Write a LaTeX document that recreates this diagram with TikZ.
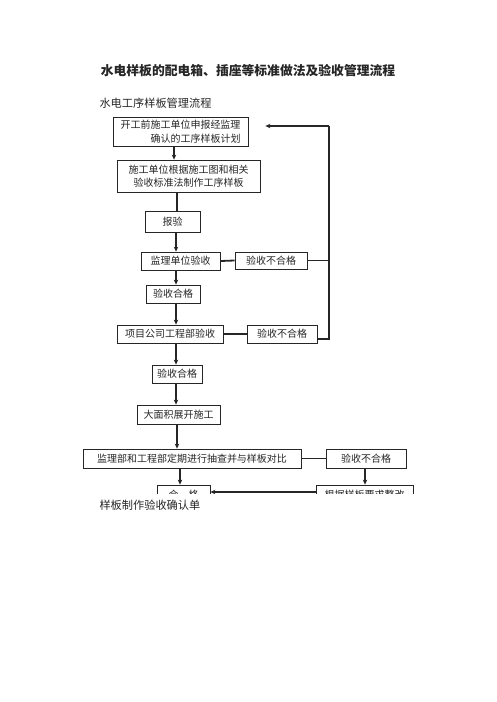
\documentclass[tikz,border=0pt]{standalone}
\usepackage{fontspec}
\newfontfamily\cjk{Noto Sans CJK SC}
\usetikzlibrary{arrows.meta}
\begin{document}
\begin{tikzpicture}[x=1pt,y=-1pt,
  every node/.style={font=\cjk\fontsize{10}{13.5}\selectfont, text=black!85},
  box/.style={draw=black!85, line width=0.8pt, inner sep=0pt, minimum width=#1, minimum height=18pt},
  conn/.style={line width=1.8pt, black!85},
  arr/.style={conn, -{Stealth[length=5pt,width=4.5pt]}}]
\useasboundingbox (0,0) rectangle (496,702);
\node[font=\cjk\fontsize{12.8}{15}\selectfont\bfseries] (title) at (248,71) {水电样板的配电箱、插座等标准做法及验收管理流程};
\node[anchor=west, font=\cjk\fontsize{11.2}{13}\selectfont] (sub) at (96,103) {水电工序样板管理流程};
\begin{scope}
\clip (0,0) rectangle (496,493.5);
\node[box=135pt, minimum height=29pt, align=right] (b1) at (180.5,131.5) {开工前施工单位申报经监理\\确认的工序样板计划};
\node[box=143pt, minimum height=32pt, align=center] (b2) at (188.5,176) {施工单位根据施工图和相关\\验收标准法制作工序样板};
\node[box=55pt, minimum height=21pt] (b3) at (172.5,221.5) {报验};
\node[box=79pt] (b4) at (180.5,261) {监理单位验收};
\node[box=72pt, minimum height=17pt] (f1) at (271,260.5) {验收不合格};
\node[box=54pt] (b5) at (173,294) {验收合格};
\node[box=106pt] (b6) at (170,334) {项目公司工程部验收};
\node[box=70pt] (f2) at (282,334) {验收不合格};
\node[box=50pt] (b7) at (177,374) {验收合格};
\node[box=83pt, minimum height=19pt] (b8) at (178.5,414.5) {大面积展开施工};
\node[box=218pt, minimum height=19pt] (b9) at (192,458.5) {监理部和工程部定期进行抽查并与样板对比};
\node[box=80pt, minimum height=19pt] (f3) at (366,458.5) {验收不合格};
\node[box=53pt, minimum height=20pt] (b10) at (183.5,495) {合\quad 格};
\node[box=97pt, minimum height=20pt] (b11) at (364.5,495) {根据样板要求整改};
\coordinate (ret) at (329,126);
\coordinate (retb) at (329,339);
\draw[arr] (b1.south -| 174,0) -- (b2.north -| 174,0);
\draw[conn] (b2.south -| 177,0) -- (b3.north -| 177,0);
\draw[arr] (b3.south -| 176,0) -- (b4.north -| 176,0);
\draw[arr] (b4.south -| 176,0) -- (b5.north -| 176,0);
\draw[arr] (b5.south -| 176,0) -- (b6.north -| 176,0);
\draw[arr] (b6.south -| 176,0) -- (b7.north -| 176,0);
\draw[arr] (b7.south -| 176,0) -- (b8.north -| 176,0);
\draw[arr] (b8.south -| 177,0) -- (b9.north -| 177,0);
\draw[arr] (b9.south -| 180,0) -- (b10.north -| 180,0);
\draw[arr] (f3.south -| 365,0) -- (b11.north -| 365,0);
\draw[conn] (b4.east) -- (f1.west);
\draw[conn] (b6.east) -- (f2.west);
\draw[conn] (b9.east) -- (f3.west);
\draw[conn] (f1.east) -- (f1.east -| ret);
\draw[conn] (f2.east |- retb) -- (retb) -- (ret);
\draw[arr, shorten >=17pt] (ret) -- (ret -| b1.east);
\draw[arr, line width=1.2pt] (b11.west |- 0,492) -- (b10.east |- 0,492);
\end{scope}
\node[anchor=west, font=\cjk\fontsize{11.2}{13}\selectfont] (foot) at (96,505) {样板制作验收确认单};
\end{tikzpicture}
\end{document}
